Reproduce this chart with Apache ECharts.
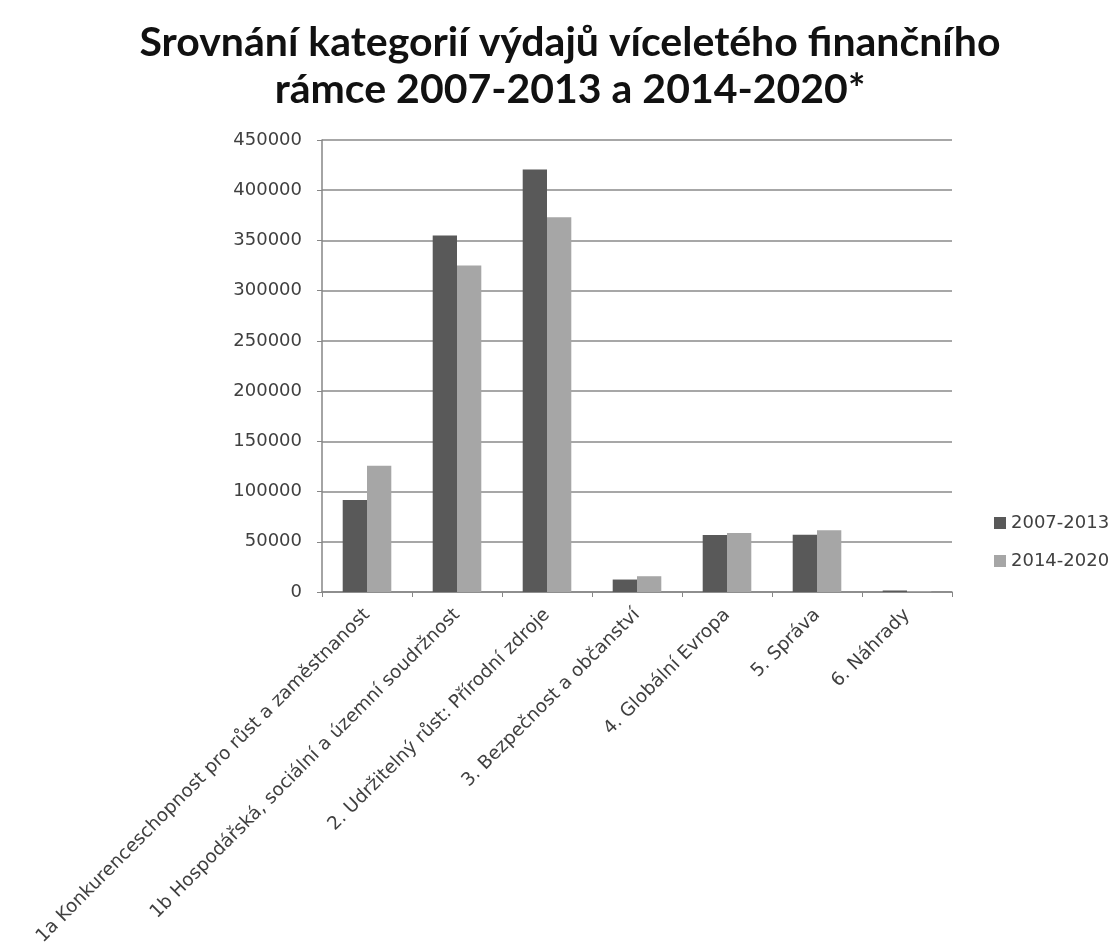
<!DOCTYPE html>
<html>
<head>
<meta charset="utf-8">
<script src="https://cdn.jsdelivr.net/npm/echarts@6/dist/echarts.min.js"></script>
<style>
html,body{margin:0;padding:0;background:#fff;}
#chart{width:1116px;height:949px;}
</style>
</head>
<body>
<div id="chart"></div>
<script>
const titleText = 'Srovnání kategorií výdajů víceletého finančního\nrámce 2007-2013 a 2014-2020*';
const categories = [
  '1a Konkurenceschopnost pro růst a zaměstnanost',
  '1b Hospodářská, sociální a územní soudržnost',
  '2. Udržitelný růst: Přírodní zdroje',
  '3. Bezpečnost a občanství',
  '4. Globální Evropa',
  '5. Správa',
  '6. Náhrady'
];
const seriesNames = ['2007-2013', '2014-2020'];
const values2007 = [91500, 354800, 420700, 12400, 56800, 57100, 1500];
const values2014 = [125600, 325100, 373200, 15700, 58700, 61600, 900];
const yTicks = { min: 0, max: 450000, interval: 50000 };

const chart = echarts.init(document.getElementById('chart'));
const titleFont = 'Lato, "Open Sans", sans-serif';
const labelFont = '"DejaVu Sans", sans-serif';
chart.setOption({
  animation: false,
  backgroundColor: '#ffffff',
  title: {
    text: titleText,
    left: 565,
    textAlign: 'center',
    top: 14,
    textStyle: { fontFamily: titleFont, fontWeight: 'bold', fontSize: 41, lineHeight: 47, color: '#111111' }
  },
  legend: {
    orient: 'vertical',
    left: 989,
    top: 509,
    itemWidth: 12,
    itemHeight: 12,
    itemGap: 20,
    icon: 'rect',
    textStyle: { fontFamily: labelFont, fontSize: 18, color: '#404040' },
    data: seriesNames
  },
  grid: { left: 322, right: 164, top: 140, bottom: 357 },
  xAxis: {
    type: 'category',
    data: categories,
    axisLine: { lineStyle: { color: '#868686', width: 1.5 } },
    axisTick: { show: true, length: 5, lineStyle: { color: '#868686' } },
    axisLabel: { interval: 0, rotate: 45, margin: 20, fontFamily: labelFont, fontSize: 18.5, color: '#404040' }
  },
  yAxis: {
    type: 'value',
    min: yTicks.min,
    max: yTicks.max,
    interval: yTicks.interval,
    axisLine: { show: true, lineStyle: { color: '#868686', width: 1.5 } },
    axisTick: { show: true, length: 5, lineStyle: { color: '#868686' } },
    axisLabel: { margin: 20, fontFamily: labelFont, fontSize: 18, color: '#404040', formatter: v => String(v) },
    splitLine: { lineStyle: { color: '#8a8a8a', width: 1.5 } }
  },
  series: [
    { name: seriesNames[0], type: 'bar', data: values2007, barGap: '0%', barCategoryGap: '46%', itemStyle: { color: '#595959' } },
    { name: seriesNames[1], type: 'bar', data: values2014, barGap: '0%', barCategoryGap: '46%', itemStyle: { color: '#a6a6a6' } }
  ]
});
</script>
</body>
</html>
